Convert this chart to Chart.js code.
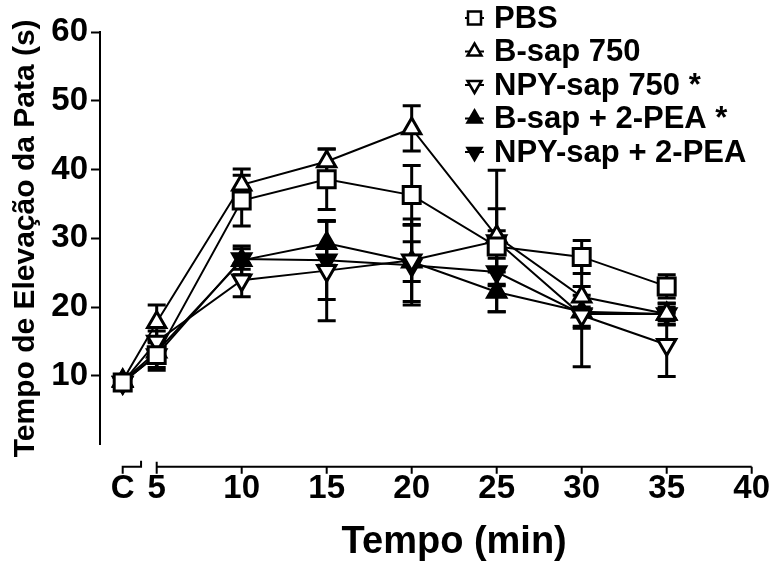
<!DOCTYPE html>
<html>
<head>
<meta charset="utf-8">
<script src="https://cdn.jsdelivr.net/npm/chart.js@4.4.1/dist/chart.umd.min.js"></script>
<style>
  html, body { margin: 0; padding: 0; background: #fff; }
  #wrap { width: 772px; height: 567px; }
</style>
</head>
<body>
<div id="wrap"><canvas id="chart" width="772" height="567"></canvas></div>
<script>
// time points (C = control, drawn at x = 3 on the broken axis)
const xValues = [3, 5, 10, 15, 20, 25, 30, 35];
const xTickValues = [3, 5, 10, 15, 20, 25, 30, 35, 40];
const yTickValues = [10, 20, 30, 40, 50, 60];
const seriesLabels = ['PBS', 'B-sap 750', 'NPY-sap 750 *', 'B-sap + 2-PEA *', 'NPY-sap + 2-PEA'];

const pbsMean = [9.0, 13.0, 35.5, 38.6, 36.3, 28.8, 27.3, 23.0];
const pbsErr = [0.6, 1.8, 3.7, 4.4, 4.3, 5.5, 2.4, 1.7];
const bsapMean = [9.3, 17.8, 37.8, 41.2, 46.0, 30.3, 21.5, 19.0];
const bsapErr = [0.6, 2.5, 2.3, 1.8, 3.3, 0.8, 1.5, 1.0];
const npyMean = [9.0, 15.0, 23.9, 25.3, 26.8, 29.6, 18.8, 14.5];
const npyErr = [0.6, 1.5, 2.4, 7.3, 6.0, 10.3, 7.5, 4.6];
const bsapPeaMean = [9.2, 13.5, 26.8, 29.3, 26.6, 22.2, 19.3, 19.0];
const bsapPeaErr = [0.6, 1.5, 2.1, 3.2, 2.9, 2.9, 2.4, 1.5];
const npyPeaMean = [9.0, 13.0, 27.0, 26.8, 26.1, 25.1, 19.0, 19.0];
const npyPeaErr = [0.6, 2.2, 1.5, 5.7, 5.8, 2.0, 1.8, 1.6];

const FONT = '"Liberation Sans", Arial, Helvetica, sans-serif';

// symbol per series: shape, filled?
const symbols = [
  { shape: 'rect', fill: false },
  { shape: 'up', fill: false },
  { shape: 'down', fill: false },
  { shape: 'up', fill: true },
  { shape: 'down', fill: true }
];
const means = [pbsMean, bsapMean, npyMean, bsapPeaMean, npyPeaMean];
const errs = [pbsErr, bsapErr, npyErr, bsapPeaErr, npyPeaErr];

function toPoints(arr) {
  return arr.map((y, i) => ({ x: xValues[i], y: y }));
}

const datasets = seriesLabels.map((label, i) => {
  const s = symbols[i];
  return {
    label: label,
    data: toPoints(means[i]),
    errors: errs[i],
    showLine: true,
    borderColor: '#000',
    borderWidth: 2,
    tension: 0,
    pointStyle: s.shape === 'rect' ? 'rect' : 'triangle',
    pointRotation: s.shape === 'down' ? 180 : 0,
    pointRadius: s.shape === 'rect' ? 12 : 10.5,
    pointBorderWidth: 3,
    pointBorderColor: '#000',
    pointBackgroundColor: s.fill ? '#000' : '#fff',
    pointHoverRadius: s.shape === 'rect' ? 12 : 10.5
  };
});

// error bars, drawn under the markers
const errorBars = {
  id: 'errorBars',
  beforeDatasetsDraw(chart) {
    const { ctx, scales: { x, y } } = chart;
    ctx.save();
    ctx.strokeStyle = '#000';
    ctx.lineWidth = 3;
    chart.data.datasets.forEach(ds => {
      ds.data.forEach((p, i) => {
        const e = ds.errors[i];
        const px = x.getPixelForValue(p.x);
        const top = y.getPixelForValue(p.y + e);
        const bot = y.getPixelForValue(p.y - e);
        ctx.beginPath();
        ctx.moveTo(px, top); ctx.lineTo(px, bot);
        ctx.moveTo(px - 9, top); ctx.lineTo(px + 9, top);
        ctx.moveTo(px - 9, bot); ctx.lineTo(px + 9, bot);
        ctx.stroke();
      });
    });
    ctx.restore();
  }
};

function drawSymbol(ctx, shape, cx, cy, r) {
  ctx.beginPath();
  if (shape === 'rect') {
    ctx.rect(cx - r, cy - r, 2 * r, 2 * r);
  } else if (shape === 'up') {
    ctx.moveTo(cx, cy - r);
    ctx.lineTo(cx + r * 0.87, cy + r * 0.5);
    ctx.lineTo(cx - r * 0.87, cy + r * 0.5);
    ctx.closePath();
  } else {
    ctx.moveTo(cx, cy + r);
    ctx.lineTo(cx + r * 0.87, cy - r * 0.5);
    ctx.lineTo(cx - r * 0.87, cy - r * 0.5);
    ctx.closePath();
  }
}

// broken x axis, x title and legend
const decorations = {
  id: 'decorations',
  afterDraw(chart) {
    const { ctx, scales: { x }, chartArea } = chart;
    const ay = chartArea.bottom + 22.3;
    const cL = x.getPixelForValue(3);
    const cR = x.getPixelForValue(4.08);
    const mL = x.getPixelForValue(5);
    const mR = x.getPixelForValue(40);
    ctx.save();
    ctx.strokeStyle = '#000';
    ctx.lineWidth = 2;
    ctx.beginPath();
    ctx.moveTo(cL, ay + 7); ctx.lineTo(cL, ay); ctx.lineTo(cR, ay); ctx.lineTo(cR, ay - 6);
    ctx.moveTo(mL, ay - 5); ctx.lineTo(mL, ay + 7);
    ctx.moveTo(mL, ay); ctx.lineTo(mR, ay);
    xTickValues.slice(2).forEach(v => {
      const px = x.getPixelForValue(v);
      ctx.moveTo(px, ay); ctx.lineTo(px, ay + 7);
    });
    ctx.stroke();

    // x title centred on the main segment
    ctx.fillStyle = '#000';
    ctx.font = 'bold 38px ' + FONT;
    ctx.textAlign = 'center';
    ctx.textBaseline = 'middle';
    ctx.fillText('Tempo (min)', (mL + mR) / 2, 543);

    // legend
    const rowY = [18, 51.5, 85, 118.5, 152];
    ctx.font = 'bold 31px ' + FONT;
    ctx.textAlign = 'left';
    chart.data.datasets.forEach((ds, i) => {
      const s = symbols[i];
      const cy = rowY[i];
      ctx.lineWidth = 2;
      ctx.beginPath();
      ctx.moveTo(465, cy); ctx.lineTo(484, cy);
      ctx.stroke();
      ctx.lineWidth = 2.5;
      drawSymbol(ctx, s.shape, 474.5, cy, s.shape === 'rect' ? 6.5 : 8);
      ctx.fillStyle = s.fill ? '#000' : '#fff';
      ctx.fill();
      ctx.stroke();
      ctx.fillStyle = '#000';
      ctx.fillText(ds.label, 494, cy + 1);
    });
    ctx.restore();
  }
};

new Chart(document.getElementById('chart'), {
  type: 'line',
  data: { datasets: datasets },
  options: {
    responsive: false,
    animation: false,
    layout: { padding: { left: 0, top: 32.3, right: 20.3, bottom: 0 } },
    plugins: {
      legend: { display: false },
      tooltip: { enabled: false }
    },
    scales: {
      x: {
        type: 'linear',
        min: 1.665,
        max: 40,
        afterFit(scale) { scale.height = 122.6; },
        afterBuildTicks(scale) { scale.ticks = xTickValues.map(v => ({ value: v })); },
        border: { display: false },
        // ticks are hidden; tickLength only pushes the labels down
        grid: { display: false, drawTicks: true, tickLength: 25 },
        ticks: {
          autoSkip: false,
          maxRotation: 0,
          padding: 0,
          color: '#000',
          font: { family: FONT, size: 33, weight: 'bold' },
          callback: v => (v === 3 ? 'C' : String(v))
        }
      },
      y: {
        min: 0,
        max: 60,
        afterFit(scale) { scale.width = 100; },
        afterBuildTicks(scale) { scale.ticks = yTickValues.map(v => ({ value: v })); },
        border: { display: true, color: '#000', width: 2 },
        grid: {
          drawOnChartArea: false,
          drawTicks: true,
          tickLength: 9,
          tickWidth: 2,
          tickColor: '#000'
        },
        ticks: {
          padding: 3,
          color: '#000',
          font: { family: FONT, size: 33, weight: 'bold' }
        },
        title: {
          display: true,
          text: 'Tempo de Elevação da Pata (s)',
          color: '#000',
          padding: { top: 8, bottom: 0 },
          font: { family: FONT, size: 30, weight: 'bold' }
        }
      }
    }
  },
  plugins: [errorBars, decorations]
});
</script>
</body>
</html>
